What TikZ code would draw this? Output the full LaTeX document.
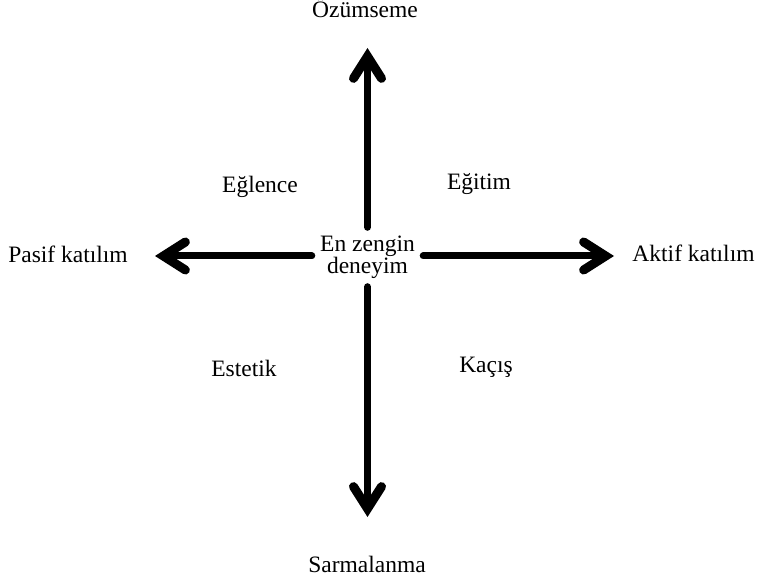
\documentclass[tikz,border=0pt]{standalone}
\usepackage{fontspec}
\setmainfont{Liberation Serif}
\usetikzlibrary{arrows.meta}

\begin{document}
\begin{tikzpicture}[x=0.5pt,y=-0.5pt,
  every node/.style={font=\fontsize{11.75pt}{11pt}\selectfont},
  axis/.style={line width=3.5pt,line cap=round,
    -{Straight Barb[line cap=round,line join=miter,line width=4.5pt,length=11pt,width=14pt]}},
  lbl/.style={anchor=base,inner sep=0pt}]

\useasboundingbox (0,0) rectangle (758,581);

\node[align=center,inner sep=4pt] (core) at (367.5,257) {En zengin\\deneyim};

\coordinate (tipN) at (367.5,48);
\coordinate (tipS) at (367.5,517);
\coordinate (tipW) at (155,256);
\coordinate (tipE) at (614,256);

\draw[axis] (core.north) -- (tipN);
\draw[axis] (core.south) -- (tipS);
\draw[axis] (core.west |- tipW) -- (tipW);
\draw[axis] (core.east |- tipE) -- (tipE);

\node[lbl] (assim) at (365,18) {Özümseme};
\node[lbl] (immer) at (367,572) {Sarmalanma};
\node[lbl] (passive) at (68,263) {Pasif katılım};
\node[lbl] (active) at (693.5,262) {Aktif katılım};

\node[lbl] (fun) at (260,193) {Eğlence};
\node[lbl] (edu) at (479,190) {Eğitim};
\node[lbl] (esth) at (244,377) {Estetik};
\node[lbl] (escape) at (486,373) {Kaçış};
\end{tikzpicture}
\end{document}
